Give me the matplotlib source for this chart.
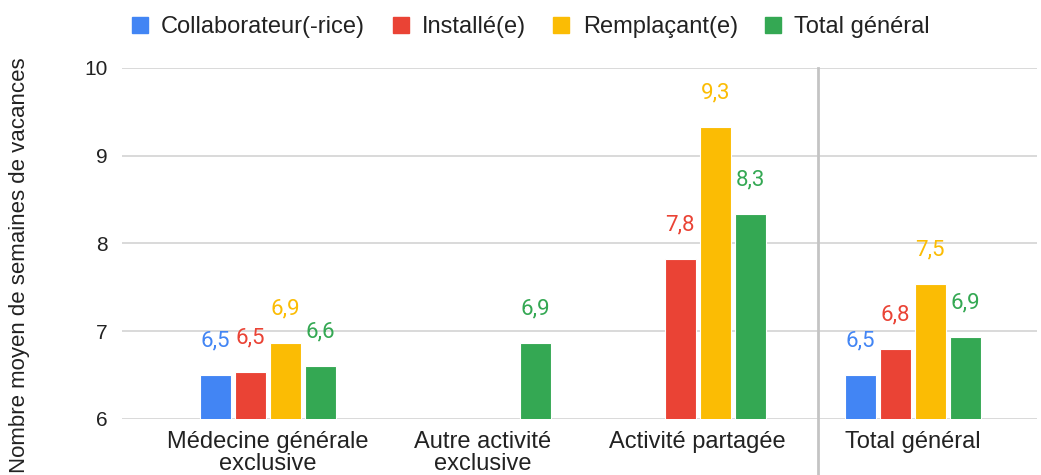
import numpy as np
import matplotlib
matplotlib.use("Agg")
import matplotlib.pyplot as plt
from matplotlib.lines import Line2D
import matplotlib.transforms as mtransforms

# Nombre moyen de semaines de vacances par statut et par type d'activité
categories = ["Médecine générale\nexclusive", "Autre activité\nexclusive",
              "Activité partagée", "Total général"]
series_names = ["Collaborateur(-rice)", "Installé(e)", "Remplaçant(e)", "Total général"]
collaborateur = [6.50, np.nan, np.nan, 6.50]
installe = [6.54, np.nan, 7.82, 6.80]
remplacant = [6.87, np.nan, 9.33, 7.54]
total = [6.60, 6.87, 8.34, 6.93]
yticks = [6, 7, 8, 9, 10]

colors = ["#4285F4", "#EA4335", "#FBBC04", "#34A853"]
text_color = "#222222"
grid_color = "#d3d3d3"

fig = plt.figure(figsize=(10.41, 4.75), dpi=100)
ax = fig.add_axes([0.117, 0.118, 0.879, 0.739])

x = np.arange(len(categories))
step = 0.163
width = 0.144
all_series = [collaborateur, installe, remplacant, total]

for i, (vals, col) in enumerate(zip(all_series, colors)):
    vals = np.array(vals, dtype=float)
    pos = x + (i - 1.5) * step
    ok = ~np.isnan(vals)
    ax.bar(pos[ok], vals[ok], width=width, color=col, edgecolor="white",
           linewidth=0.8, zorder=3)
    for px, v in zip(pos[ok], vals[ok]):
        ax.annotate(f"{v:.1f}".replace(".", ","), (px, v),
                    xytext=(0, 24.5), textcoords="offset points",
                    ha="center", va="center", color=col, fontsize=16,
                    family="Roboto", zorder=4)

ax.set_ylim(6, 10)
ax.set_xlim(-0.679, 3.577)
ax.set_yticks(yticks)
ax.set_yticklabels([str(t) for t in yticks])
ax.set_xticks(x)
ax.set_xticklabels(categories, linespacing=1.0)
ax.tick_params(axis="both", length=0, colors=text_color,
               labelfontfamily="Liberation Sans")
ax.tick_params(axis="y", pad=10, labelsize=15)
ax.tick_params(axis="x", pad=8.5, labelsize=17)
ax.grid(axis="y", color=grid_color, linewidth=1.2, zorder=0)
for s in ax.spines.values():
    s.set_visible(False)

# séparateur avant le total général
trans = mtransforms.blended_transform_factory(ax.transData, ax.transAxes)
ax.plot([2.558, 2.558], [-0.17, 1.0], transform=trans, color="#c4c4c4",
        linewidth=2, clip_on=False, zorder=2)

fig.text(0.019, 0.442, "Nombre moyen de semaines de vacances", rotation=90,
         ha="center", va="center", fontsize=16, color=text_color,
         family="Liberation Sans")

handles = [Line2D([], [], marker="s", linestyle="", markersize=12,
                  markerfacecolor=c, markeredgecolor=c) for c in colors]
fig.legend(handles, series_names, loc="center", bbox_to_anchor=(0.51, 0.943),
           ncol=4, frameon=False, handlelength=0.7, handletextpad=0.55,
           columnspacing=1.15, prop={"family": "Liberation Sans", "size": 17},
           labelcolor=text_color)

fig.savefig("out.png", dpi=100)
